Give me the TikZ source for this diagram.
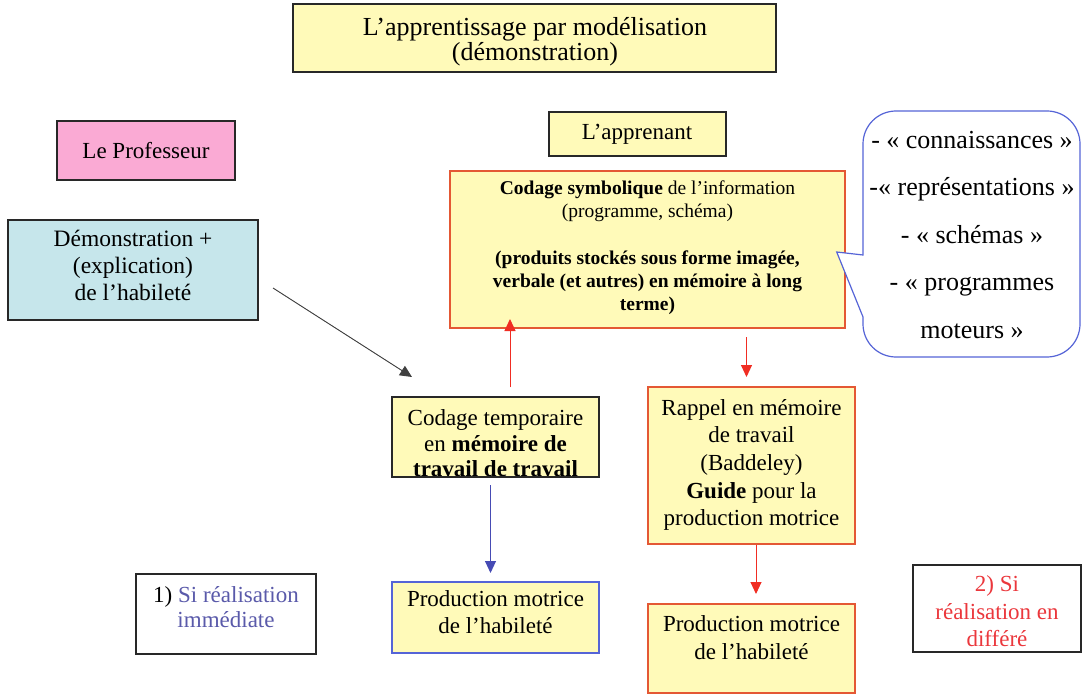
\documentclass[tikz,border=0pt]{standalone}
\usepackage{fontspec}
\setmainfont{Liberation Serif}
\usetikzlibrary{arrows.meta,calc}
\definecolor{boxyellow}{RGB}{255,250,185}
\definecolor{boxpink}{RGB}{250,170,212}
\definecolor{boxcyan}{RGB}{198,230,235}
\definecolor{bordred}{RGB}{228,88,52}
\definecolor{bordblue}{RGB}{85,100,215}
\definecolor{arrred}{RGB}{240,45,35}
\definecolor{arrblue}{RGB}{70,75,180}
\definecolor{txtblue}{RGB}{90,90,170}
\definecolor{txtred}{RGB}{235,55,60}
\definecolor{bordark}{RGB}{40,40,40}
\tikzset{
  box/.style={draw=bordark, line width=1.2pt, anchor=north west, inner sep=0pt, outer sep=0pt},
  txt/.style={align=center, inner sep=0pt, outer sep=0pt},
  arrowtip/.style={-{Triangle[length=12pt,width=11pt]}, line width=1pt},
}
\begin{document}
\begin{tikzpicture}[x=1pt,y=-1pt]
\useasboundingbox (0,0) rectangle (1087,695);
% boxes
\node[box, fill=boxyellow, minimum width=483pt, minimum height=68pt] (title) at (293,4) {};
\node[box, fill=boxpink, minimum width=178pt, minimum height=59pt] (prof) at (57,121) {};
\node[box, fill=boxcyan, minimum width=250pt, minimum height=100pt] (demo) at (8,220) {};
\node[box, fill=boxyellow, minimum width=177pt, minimum height=44pt] (appr) at (549,112) {};
\node[box, fill=boxyellow, draw=bordred, minimum width=395pt, minimum height=157pt] (codsym) at (450,171) {};
\node[box, fill=boxyellow, draw=bordred, minimum width=207pt, minimum height=157pt] (rappel) at (648,387) {};
\node[box, fill=boxyellow, draw=bordblue, minimum width=207pt, minimum height=71pt] (prodA) at (392,582) {};
\node[box, fill=boxyellow, draw=bordred, minimum width=207pt, minimum height=89pt] (prodB) at (648,604) {};
\node[box, fill=white, minimum width=180pt, minimum height=80pt] (siA) at (136,574) {};
\node[box, fill=white, minimum width=168pt, minimum height=87pt] (siB) at (913,565) {};
\node[box, fill=boxyellow, minimum width=207pt, minimum height=80pt] (tempobg) at (392,397) {};
% callout
\draw[draw=bordblue, line width=1.2pt, fill=white]
  (863,255) -- (836.7,252) -- (863,317)
  {[rounded corners=33pt] -- (863,357) -- (1080,357) -- (1080,111) -- (863,111)} -- cycle;
% texts
\node[txt, font=\fontsize{26}{25}\selectfont] (titlet) at (535,41.4)
  {L’apprentissage par modélisation\\(démonstration)};
\node[txt, font=\fontsize{23}{27}\selectfont] (proft) at (146,151) {Le Professeur};
\node[txt, font=\fontsize{23.5}{27}\selectfont] (demot) at (133,265.5)
  {Démonstration +\\(explication)\\de l’habileté};
\node[txt, font=\fontsize{23}{27}\selectfont] (apprt) at (637,134) {L’apprenant};
\node[txt, font=\fontsize{19.5}{23.3}\selectfont] (codsymt) at (647.5,247.6)
  {\textbf{Codage symbolique} de l’information\\(programme, schéma)\\ \mbox{}\\
   \textbf{(produits stockés sous forme imagée,}\\
   \textbf{verbale (et autres) en mémoire à long}\\
   \textbf{terme)}};
\node[txt, font=\fontsize{26}{47.5}\selectfont] (callt) at (972,235)
  {- « connaissances »\\-« représentations »\\- « schémas »\\- « programmes\\moteurs »};
\node[txt, font=\fontsize{23}{27.7}\selectfont] (rappelt) at (751.5,465)
  {Rappel en mémoire\\de travail\\(Baddeley)\\\textbf{Guide} pour la\\production motrice};
\node[txt, font=\fontsize{23}{27}\selectfont] (prodAt) at (495.5,612.5)
  {Production motrice\\de l’habileté};
\node[txt, font=\fontsize{23}{28}\selectfont] (prodBt) at (751.5,638)
  {Production motrice\\de l’habileté};
\node[txt, font=\fontsize{23}{25}\selectfont] (siAt) at (226,607.5)
  {1) {\color{txtblue}Si réalisation}\\{\color{txtblue}immédiate}};
\node[txt, font=\fontsize{23}{27.5}\selectfont, text=txtred] (siBt) at (997,611.5)
  {2) Si\\réalisation en\\différé};
% temporary coding box: text overflows its bottom border
\node[txt, font=\fontsize{23}{25.5}\selectfont] (tempot) at (495.5,443.5)
  {Codage temporaire\\en \textbf{mémoire de}\\\textbf{travail de travail}};
\node[box, minimum width=207pt, minimum height=80pt] (tempo) at (392,397) {};
% connectors
\coordinate (xa) at (510,0);
\coordinate (xb) at (746.5,0);
\coordinate (xc) at (490.5,0);
\coordinate (xd) at (756,0);
\draw[arrowtip, draw=arrred, fill=arrred, shorten <=10pt, shorten >=-9pt] (tempo.north -| xa) -- (codsym.south -| xa);
\draw[arrowtip, draw=arrred, fill=arrred, shorten <=9pt, shorten >=10pt] (codsym.south -| xb) -- (rappel.north -| xb);
\draw[arrowtip, draw=arrblue, fill=arrblue, shorten <=8pt, shorten >=9pt] (tempo.south -| xc) -- (prodA.north -| xc);
\draw[arrowtip, draw=arrred, fill=arrred, shorten <=1pt, shorten >=10pt] (rappel.south -| xd) -- (prodB.north -| xd);
\draw[arrowtip, draw=black!75, fill=black, line width=0.9pt] ($(demo.east)+(15,18)$) -- ($(tempo.north west)+(20,-20)$);
\end{tikzpicture}
\end{document}
